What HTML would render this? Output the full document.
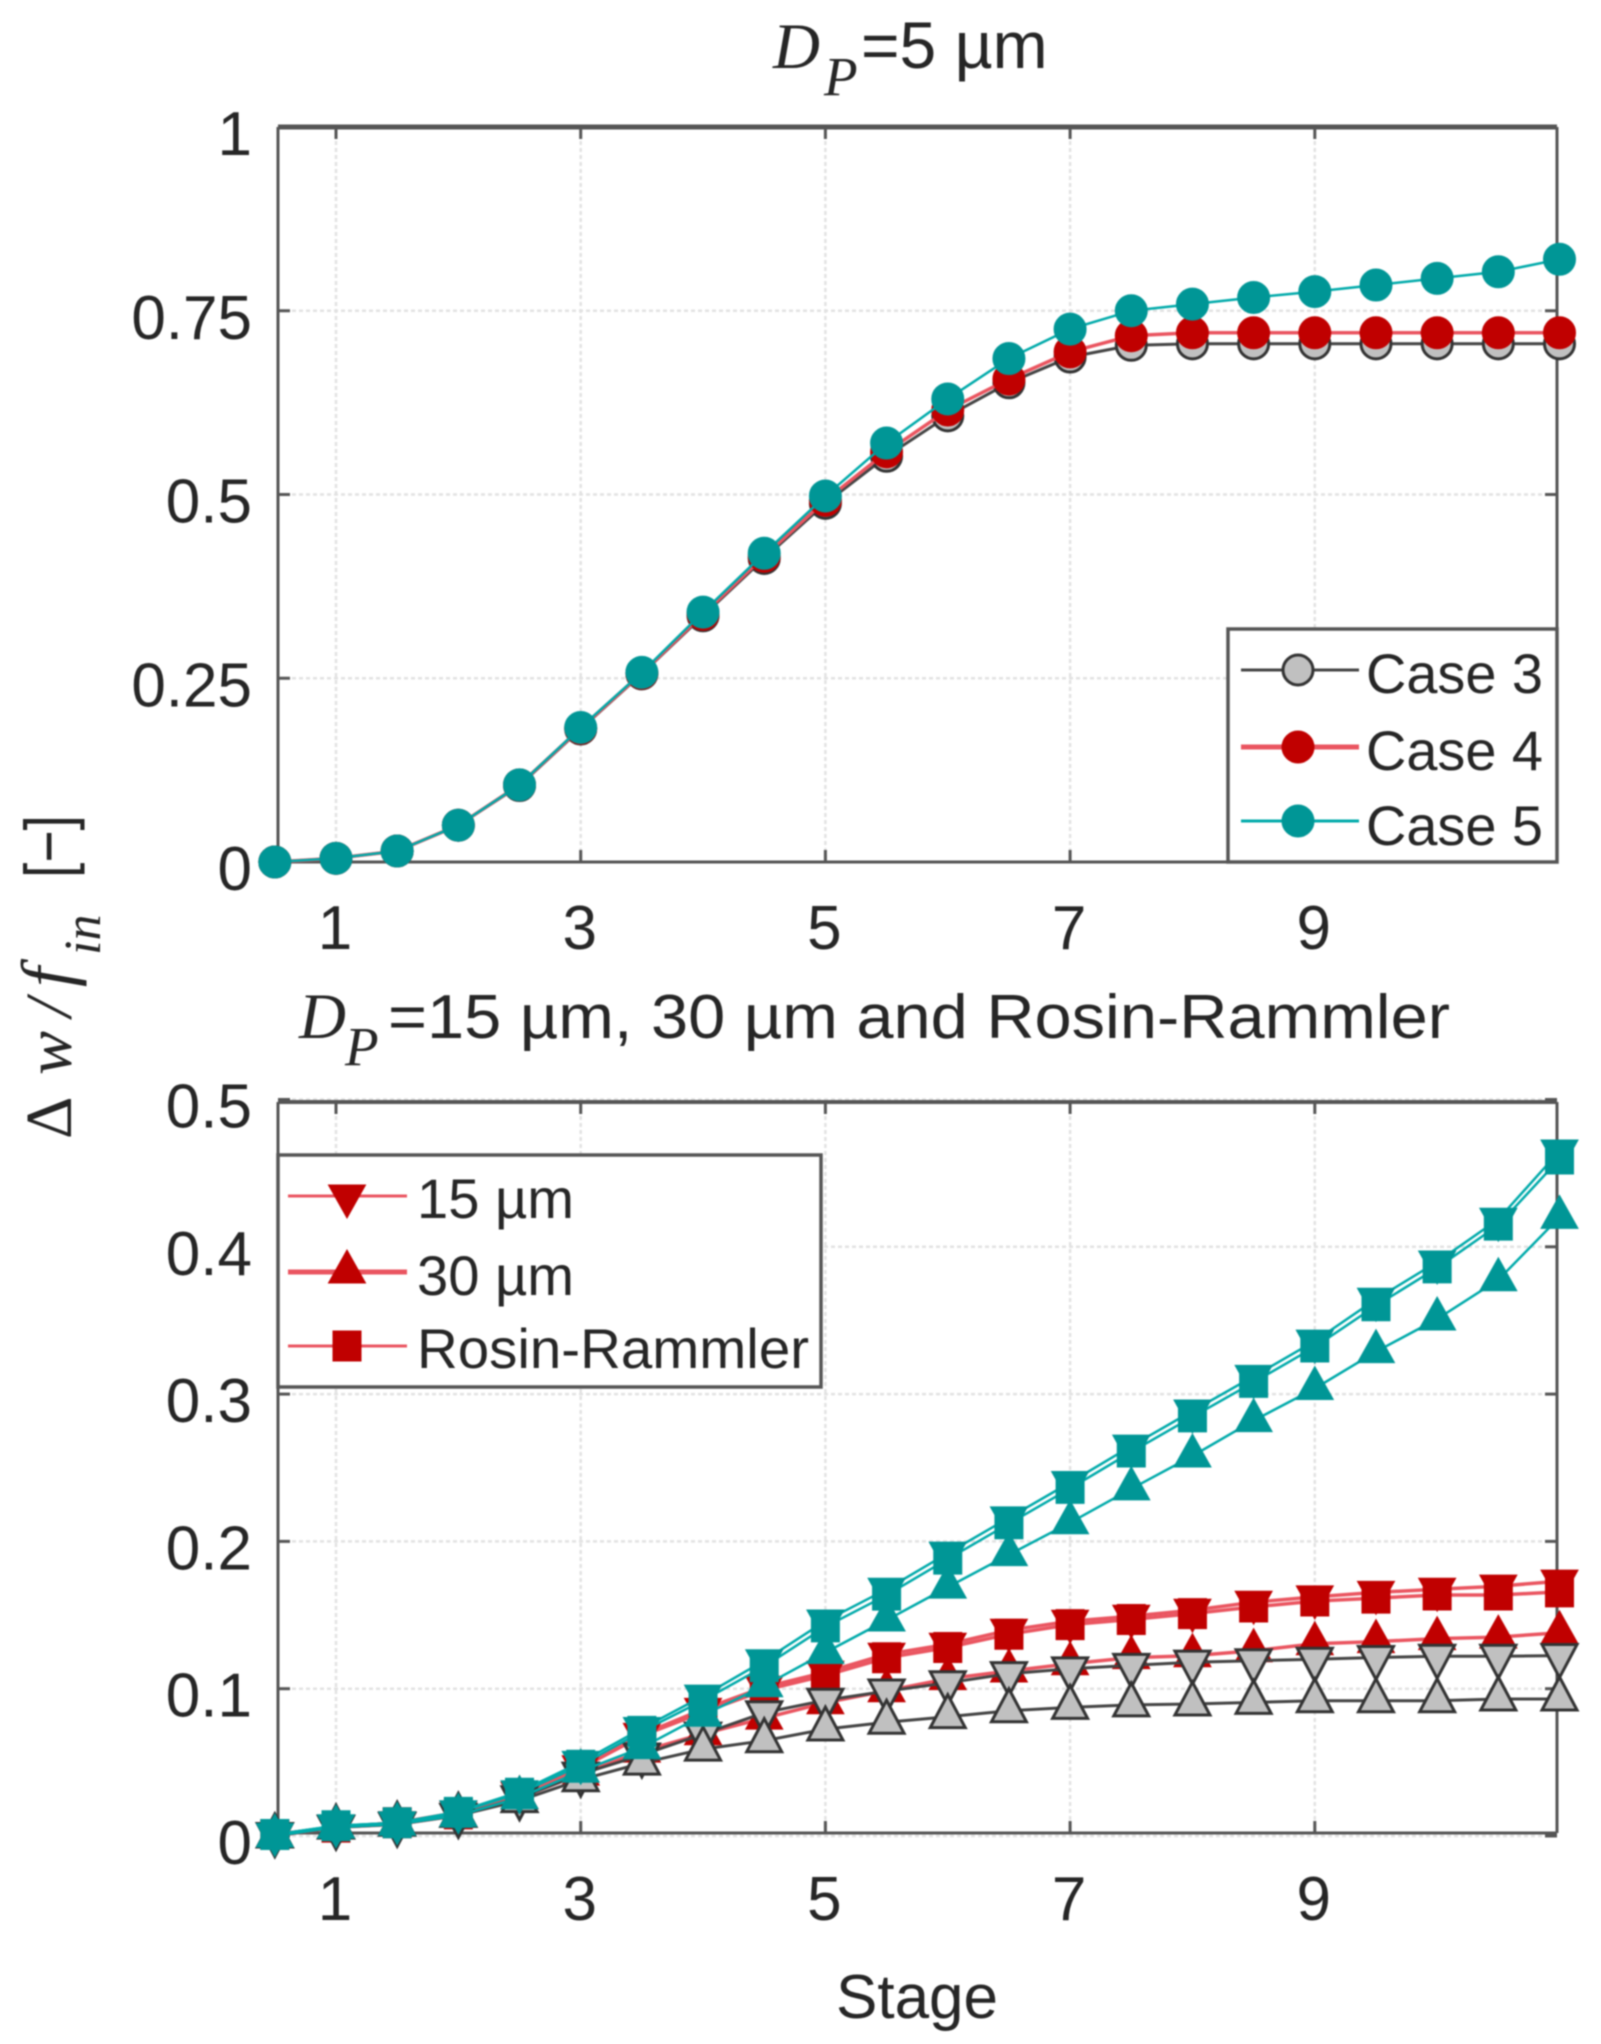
<!DOCTYPE html>
<html lang="en">
<head>
<meta charset="utf-8">
<title>Delta w over f_in by stage</title>
<style>
html,body{margin:0;padding:0;background:#fff;}
#chart{display:block;width:1601px;height:2044px;filter:blur(0.8px);}
text{font-family:"Liberation Sans",sans-serif;fill:#262626;}
.serif{font-family:"Liberation Serif",serif;font-style:italic;}
</style>
</head>
<body>
<svg id="chart" xmlns="http://www.w3.org/2000/svg" width="1601" height="2044" viewBox="0 0 1601 2044">
  <rect x="0" y="0" width="1601" height="2044" fill="#fff"/>
  <g id="top-plot"></g>
  <g id="bottom-plot"></g>

  <g>
    <text class="serif" x="773" y="68" font-size="65">D</text>
    <text class="serif" x="824" y="95" font-size="55">P</text>
    <text x="861" y="68" font-size="66">=5 µm</text>
  </g>
  <g>
    <text class="serif" x="299" y="1038" font-size="65">D</text>
    <text class="serif" x="345" y="1065" font-size="55">P</text>
    <text x="388" y="1038" font-size="62" textLength="1062" lengthAdjust="spacingAndGlyphs">=15 µm, 30 µm and Rosin-Rammler</text>
  </g>
  <g>
    <text class="serif" style="font-style:normal" transform="translate(71,1139) rotate(-90)" font-size="66">Δ</text>
    <text class="serif" transform="translate(71,1075) rotate(-90)" font-size="66">w</text>
    <text class="serif" transform="translate(71,1017) rotate(-90)" font-size="66">/</text>
    <text class="serif" transform="translate(71,987) rotate(-90)" font-size="72">f</text>
    <text class="serif" transform="translate(100,955) rotate(-90)" font-size="52">in</text>
    <text transform="translate(71,878) rotate(-90)" font-size="66" textLength="63" lengthAdjust="spacingAndGlyphs">[−]</text>
  </g>
  <text x="917" y="2018" font-size="62" text-anchor="middle">Stage</text>
</svg>

<script>
// Shared categories
const stages = [0.5,1,1.5,2,2.5,3,3.5,4,4.5,5,5.5,6,6.5,7,7.5,8,8.5,9,9.5,10,10.5,11];
const xTickValues = [1,3,5,7,9];

// Top plot tick labels
const topYTicks = [0,0.25,0.5,0.75,1];
const topYTickLabels = ['0','0.25','0.5','0.75','1'];

// Top plot series
const case3Values = [0,0.005,0.015,0.05,0.104,0.181,0.256,0.335,0.413,0.488,0.552,0.607,0.652,0.687,0.703,0.705,0.705,0.705,0.705,0.705,0.705,0.705];
const case4Values = [0,0.005,0.015,0.05,0.105,0.182,0.257,0.337,0.416,0.492,0.558,0.615,0.657,0.694,0.716,0.72,0.72,0.72,0.72,0.72,0.72,0.72];
const case5Values = [0,0.005,0.015,0.05,0.105,0.183,0.258,0.34,0.42,0.498,0.57,0.63,0.685,0.725,0.75,0.759,0.768,0.776,0.785,0.794,0.803,0.82];

// Bottom plot tick labels
const bottomYTicks = [0,0.1,0.2,0.3,0.4,0.5];
const bottomYTickLabels = ['0','0.1','0.2','0.3','0.4','0.5'];

// Bottom plot series: gray (case 3)
const gray15Values = [0.001,0.006,0.008,0.014,0.026,0.042,0.055,0.0692,0.0837,0.0922,0.0984,0.104,0.1102,0.1135,0.1158,0.118,0.119,0.12,0.1212,0.122,0.122,0.1225];
const gray30Values = [0,0.006,0.008,0.014,0.024,0.0382,0.0495,0.059,0.0647,0.0726,0.0772,0.081,0.085,0.0873,0.089,0.0896,0.0907,0.0918,0.0918,0.0918,0.093,0.093];

// Bottom plot series: red (case 4)
const red15Values = [0.001,0.006,0.009,0.016,0.029,0.047,0.069,0.086,0.101,0.1112,0.1234,0.1302,0.1397,0.1458,0.1492,0.1533,0.1587,0.1623,0.1654,0.1675,0.1696,0.173];
const red30Values = [0,0.006,0.008,0.014,0.026,0.042,0.0576,0.0694,0.08,0.0905,0.0986,0.1068,0.112,0.1169,0.1211,0.1224,0.1258,0.1305,0.132,0.134,0.135,0.138];
const redRRValues = [0.001,0.006,0.009,0.015,0.028,0.046,0.068,0.084,0.099,0.109,0.121,0.128,0.137,0.1435,0.147,0.151,0.1555,0.1595,0.1615,0.1636,0.1636,0.1657];

// Bottom plot series: teal (case 5)
const teal15Values = [0.001,0.007,0.009,0.0165,0.03,0.05,0.073,0.095,0.119,0.146,0.1675,0.192,0.216,0.24,0.2647,0.2885,0.312,0.336,0.3644,0.3897,0.4187,0.465];
const teal30Values = [0,0.006,0.008,0.014,0.026,0.044,0.06,0.082,0.102,0.1246,0.1466,0.169,0.191,0.2127,0.2357,0.258,0.282,0.3038,0.3288,0.351,0.3776,0.42];
const tealRRValues = [0.001,0.007,0.009,0.016,0.029,0.048,0.071,0.092,0.115,0.142,0.1635,0.188,0.212,0.236,0.2607,0.2845,0.308,0.332,0.36,0.3857,0.4147,0.4596];

const SVGNS = 'http://www.w3.org/2000/svg';
const GRAY = {line:'#444444', fill:'#c0c0c0', edge:'#333333', edgeWidth:3, lineWidth:3};
const RED = {line:'#ea5560', fill:'#c00000', edge:'#c00000', edgeWidth:1, lineWidth:3.5};
const TEAL = {line:'#00aaaa', fill:'#009696', edge:'#009696', edgeWidth:1, lineWidth:2.5};

function make(tag, attrs, parent) {
  const el = document.createElementNS(SVGNS, tag);
  for (const k in attrs) el.setAttribute(k, attrs[k]);
  if (parent) parent.appendChild(el);
  return el;
}

function xScale(s) { return 336 + (s - 1) * 122.35; }
function yTop(v) { return 862 - v * 735; }
function yBottom(v) { return 1836 - v * 1473; }

function markerElement(shape, cx, cy, style, parent) {
  const sw = style.edgeWidth;
  if (shape === 'circle') {
    return make('circle', {cx:cx, cy:cy, r:16.5 - sw / 2, fill:style.fill, stroke:style.edge, 'stroke-width':sw}, parent);
  }
  const hw = 19 - sw / 2;
  let d = '';
  if (shape === 'down') {
    d = 'M'+(cx-hw)+' '+(cy-11)+'H'+(cx+hw)+'L'+cx+' '+(cy+22)+'Z';
  } else if (shape === 'up') {
    d = 'M'+(cx-hw)+' '+(cy+11)+'H'+(cx+hw)+'L'+cx+' '+(cy-22)+'Z';
  } else {
    d = 'M'+(cx-14)+' '+(cy-15)+'H'+(cx+14)+'V'+(cy+15)+'H'+(cx-14)+'Z';
  }
  return make('path', {d:d, fill:style.fill, stroke:style.edge, 'stroke-width':sw, 'stroke-linejoin':'miter'}, parent);
}

// Draws one colour group: all of its lines first, then all of its markers.
function drawGroup(parent, seriesList, yFn, style) {
  seriesList.forEach(function (s) {
    const pts = s.values.map(function (v, i) { return xScale(stages[i]).toFixed(1) + ',' + yFn(v).toFixed(1); }).join(' ');
    const line = make('polyline', {points:pts, fill:'none', stroke:style.line, 'stroke-width':style.lineWidth}, parent);
    
    
  });
  seriesList.forEach(function (s) {
    const g = make('g', {}, parent);
    
    
    s.values.forEach(function (v, i) {
      const m = markerElement(s.shape, xScale(stages[i]), yFn(v), style, g);
      
      
    });
  });
}

function drawAxes(parent, prefix, box, yFn, yTicks, yLabels) {
  const grid = make('g', {stroke:'#e2e2e2', 'stroke-width':2.5, 'stroke-dasharray':'4 3'}, parent);
  
  
  xTickValues.forEach(function (t) {
    const l = make('line', {x1:xScale(t), x2:xScale(t), y1:box.top, y2:box.bottom}, grid);
    
    
  });
  yTicks.forEach(function (t) {
    const l = make('line', {x1:box.left, x2:box.right, y1:yFn(t), y2:yFn(t)}, grid);
    
    
  });
  const frame = make('g', {stroke:'#555', fill:'none'}, parent);
  
  
  make('line', {x1:box.left, x2:box.right, y1:box.top, y2:box.top, 'stroke-width':box.topWidth}, frame);
  make('line', {x1:box.left, x2:box.right, y1:box.bottom, y2:box.bottom, 'stroke-width':3}, frame);
  make('line', {x1:box.left, x2:box.left, y1:box.top, y2:box.bottom, 'stroke-width':3}, frame);
  make('line', {x1:box.right, x2:box.right, y1:box.top, y2:box.bottom, 'stroke-width':3}, frame);
  xTickValues.forEach(function (t) {
    const a = make('line', {x1:xScale(t), x2:xScale(t), y1:box.top, y2:box.top+12, 'stroke-width':3}, frame);
    
    
    const b = make('line', {x1:xScale(t), x2:xScale(t), y1:box.bottom, y2:box.bottom-12, 'stroke-width':3}, frame);
    
    
    const label = make('text', {x:xScale(t)-1, y:box.bottom+87, 'font-size':62, 'text-anchor':'middle'}, parent);
    
    
    label.textContent = String(t);
  });
  yTicks.forEach(function (t, i) {
    const a = make('line', {x1:box.left, x2:box.left+12, y1:yFn(t), y2:yFn(t), 'stroke-width':3}, frame);
    
    
    const b = make('line', {x1:box.right, x2:box.right-12, y1:yFn(t), y2:yFn(t), 'stroke-width':3}, frame);
    
    
    const label = make('text', {x:252, y:yFn(t)+28, 'font-size':62, 'text-anchor':'end'}, parent);
    
    
    label.textContent = yLabels[i];
  });
}

function drawLegend(parent, name, box) {
  const g = make('g', {}, parent);
  
  
  const r = make('rect', {x:box.x, y:box.y, width:box.w, height:box.h, fill:'#fff', stroke:'#555', 'stroke-width':3.5}, g);
  
  
  box.rows.forEach(function (row) {
    const e = make('g', {}, g);
    
    
    make('line', {x1:box.lineX1, x2:box.lineX2, y1:row.y, y2:row.y, stroke:row.style.line, 'stroke-width':row.lineWidth}, e);
    markerElement(row.shape, box.markerX, row.y, row.style, e);
    const t = make('text', {x:box.textX, y:row.base, 'font-size':56, fill:'#1a1a1a'}, e);
    if (row.len) {
      t.setAttribute('textLength', row.len);
      t.setAttribute('lengthAdjust', 'spacingAndGlyphs');
    }
    t.textContent = row.label;
  });
}

// Top plot
const topPlot = document.getElementById('top-plot');
drawAxes(topPlot, 'top', {left:278, right:1557, top:127, bottom:862, topWidth:5}, yTop, topYTicks, topYTickLabels);
drawGroup(topPlot, [{name:'series-case-3', values:case3Values, shape:'circle'}], yTop, GRAY);
drawGroup(topPlot, [{name:'series-case-4', values:case4Values, shape:'circle'}], yTop, RED);
drawGroup(topPlot, [{name:'series-case-5', values:case5Values, shape:'circle'}], yTop, TEAL);
drawLegend(topPlot, 'top-legend', {
  x:1228, y:629, w:329, h:233, lineX1:1241, lineX2:1359, markerX:1298, textX:1366,
  rows:[
    {y:670, base:693, shape:'circle', style:GRAY, lineWidth:3, label:'Case 3', len:177},
    {y:747, base:770, shape:'circle', style:RED, lineWidth:5, label:'Case 4', len:177},
    {y:821, base:845, shape:'circle', style:TEAL, lineWidth:3, label:'Case 5', len:177}
  ]
});

// Bottom plot: red is drawn first, gray above it, teal on top
const bottomPlot = document.getElementById('bottom-plot');
drawAxes(bottomPlot, 'bottom', {left:278, right:1557, top:1102, bottom:1833, topWidth:4}, yBottom, bottomYTicks, bottomYTickLabels);
drawGroup(bottomPlot, [
  {name:'series-red-rosin-rammler', values:redRRValues, shape:'square'},
  {name:'series-red-30um', values:red30Values, shape:'up'},
  {name:'series-red-15um', values:red15Values, shape:'down'}
], yBottom, RED);
drawGroup(bottomPlot, [
  {name:'series-gray-15um', values:gray15Values, shape:'down'},
  {name:'series-gray-30um', values:gray30Values, shape:'up'}
], yBottom, GRAY);
drawGroup(bottomPlot, [
  {name:'series-teal-rosin-rammler', values:tealRRValues, shape:'square'},
  {name:'series-teal-30um', values:teal30Values, shape:'up'},
  {name:'series-teal-15um', values:teal15Values, shape:'down'}
], yBottom, TEAL);
drawLegend(bottomPlot, 'bottom-legend', {
  x:278, y:1155, w:543, h:232, lineX1:288, lineX2:407, markerX:347, textX:417,
  rows:[
    {y:1196, base:1218, shape:'down', style:RED, lineWidth:3, label:'15 µm', len:157},
    {y:1272, base:1295, shape:'up', style:RED, lineWidth:5, label:'30 µm', len:157},
    {y:1346, base:1368, shape:'square', style:RED, lineWidth:3, label:'Rosin-Rammler', len:392}
  ]
});
</script>
</body>
</html>
